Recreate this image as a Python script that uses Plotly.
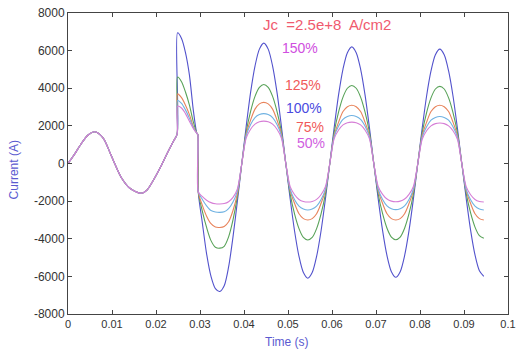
import plotly.graph_objects as go

# ---------------- data ----------------
series_names = ["150%", "125%", "100%", "75%", "50%"]
series_colors = ["#5252cc", "#58a258", "#e8845c", "#70b2e2", "#d67ed6"]

# pre-fault part (shared by all curves)
t_pre = [0.0, 0.0015, 0.003, 0.0045, 0.0061, 0.008, 0.0095, 0.0106, 0.012, 0.014,
         0.0166, 0.018, 0.0195, 0.021, 0.0225, 0.024, 0.0248]
i_pre = [0, 500, 1050, 1500, 1690, 1350, 600, 0, -700, -1300,
         -1585, -1400, -850, -200, 520, 1200, 1560]

# fault onset part (jump, decay, drop)
t_jump = [0.0249, 0.0258, 0.0267, 0.0276, 0.0285, 0.0293, 0.0295, 0.0296]
i_jump_150 = [6950, 6650, 5900, 4700, 2800, 1600, 1550, -1500]
i_jump_125 = [4600, 4350, 3800, 3100, 2200, 1600, 1550, -1500]
i_jump_100 = [3700, 3500, 3100, 2600, 1950, 1600, 1550, -1500]
i_jump_75 = [3350, 3200, 2850, 2400, 1900, 1600, 1550, -1500]
i_jump_50 = [3050, 2950, 2650, 2250, 1850, 1600, 1550, -1500]

# limited part
t_post = [0.0305, 0.0315, 0.0325, 0.0335, 0.0345, 0.0355, 0.0365, 0.0375, 0.0385, 0.0395,
          0.0405, 0.0415, 0.0425, 0.0435, 0.0445, 0.0455, 0.0465, 0.0475, 0.0485, 0.0495,
          0.0505, 0.0515, 0.0525, 0.0535, 0.0545, 0.0555, 0.0565, 0.0575, 0.0585, 0.0595,
          0.0605, 0.0615, 0.0625, 0.0635, 0.0645, 0.0655, 0.0665, 0.0675, 0.0685, 0.0695,
          0.0705, 0.0715, 0.0725, 0.0735, 0.0745, 0.0755, 0.0765, 0.0775, 0.0785, 0.0795,
          0.0805, 0.0815, 0.0825, 0.0835, 0.0845, 0.0855, 0.0865, 0.0875, 0.0885, 0.0895,
          0.0905, 0.0915, 0.0925, 0.0935, 0.0945]
i_post_150 = [-3100, -4800, -6000, -6650, -6800, -6500, -5500, -3900, -2000, 0,
              1980, 3780, 5180, 6080, 6400, 6080, 5180, 3780, 1980, 0,
              -1890, -3600, -4940, -5800, -6100, -5800, -4940, -3600, -1890, 0,
              1920, 3660, 5020, 5890, 6200, 5890, 5020, 3660, 1920, 0,
              -1880, -3570, -4900, -5750, -6050, -5750, -4900, -3570, -1880, 0,
              1880, 3590, 4920, 5780, 6080, 5780, 4920, 3590, 1880, 0,
              -1860, -3540, -4860, -5700, -6000]
i_post_125 = [-2500, -3400, -4100, -4450, -4500, -4400, -3900, -3000, -1750, 0,
              1680, 2770, 3570, 4050, 4200, 4050, 3570, 2770, 1680, 0,
              -1630, -2690, -3460, -3930, -4070, -3930, -3460, -2690, -1630, 0,
              1660, 2740, 3530, 4000, 4150, 4000, 3530, 2740, 1660, 0,
              -1620, -2670, -3440, -3910, -4050, -3910, -3440, -2670, -1620, 0,
              1640, 2710, 3490, 3960, 4100, 3960, 3490, 2710, 1640, 0,
              -1590, -2630, -3380, -3840, -3980]
i_post_100 = [-2200, -2800, -3200, -3380, -3400, -3350, -3100, -2500, -1600, 0,
              1560, 2310, 2890, 3170, 3250, 3170, 2890, 2310, 1560, 0,
              -1440, -2130, -2670, -2930, -3000, -2930, -2670, -2130, -1440, 0,
              1490, 2200, 2760, 3020, 3100, 3020, 2760, 2200, 1490, 0,
              -1440, -2130, -2670, -2930, -3000, -2930, -2670, -2130, -1440, 0,
              1490, 2200, 2760, 3020, 3100, 3020, 2760, 2200, 1490, 0,
              -1440, -2130, -2670, -2930, -3000]
i_post_75 = [-1900, -2250, -2500, -2580, -2600, -2570, -2400, -2050, -1450, 0,
             1480, 2070, 2440, 2600, 2650, 2600, 2440, 2070, 1480, 0,
             -1380, -1930, -2270, -2420, -2470, -2420, -2270, -1930, -1380, 0,
             1430, 1990, 2350, 2500, 2550, 2500, 2350, 1990, 1430, 0,
             -1370, -1910, -2250, -2400, -2450, -2400, -2250, -1910, -1370, 0,
             1400, 1950, 2300, 2450, 2500, 2450, 2300, 1950, 1400, 0,
             -1380, -1930, -2270, -2420, -2470]
i_post_50 = [-1750, -1950, -2080, -2140, -2150, -2130, -2030, -1800, -1350, 0,
             1350, 1820, 2090, 2220, 2250, 2220, 2090, 1820, 1350, 0,
             -1230, -1660, -1910, -2020, -2050, -2020, -1910, -1660, -1230, 0,
             1320, 1780, 2050, 2170, 2200, 2170, 2050, 1780, 1320, 0,
             -1220, -1640, -1890, -2000, -2030, -2000, -1890, -1640, -1220, 0,
             1290, 1740, 2000, 2120, 2150, 2120, 2000, 1740, 1290, 0,
             -1230, -1660, -1910, -2020, -2050]

x_tickvals = [0, 0.01, 0.02, 0.03, 0.04, 0.05, 0.06, 0.07, 0.08, 0.09, 0.1]
x_ticktext = ["0", "0.01", "0.02", "0.03", "0.04", "0.05", "0.06", "0.07", "0.08", "0.09", "0.1"]
y_tickvals = [-8000, -6000, -4000, -2000, 0, 2000, 4000, 6000, 8000]
y_ticktext = ["-8000", "-6000", "-4000", "-2000", "0", "2000", "4000", "6000", "8000"]

label_texts = ["150%", "125%", "100%", "75%", "50%"]
label_colors = ["#d04ee0", "#f05a5a", "#4a4ae0", "#f05a5a", "#d060e0"]
label_x = [0.0527, 0.0534, 0.0536, 0.0550, 0.0552]
label_y = [6150, 4180, 2950, 1940, 1090]

jumps = [i_jump_150, i_jump_125, i_jump_100, i_jump_75, i_jump_50]
posts = [i_post_150, i_post_125, i_post_100, i_post_75, i_post_50]

# ---------------- figure ----------------
fig = go.Figure()
for name, col, ij, ip in zip(series_names, series_colors, jumps, posts):
    fig.add_trace(go.Scatter(
        x=t_pre + t_jump + t_post,
        y=i_pre + ij + ip,
        mode="lines",
        name=name,
        line=dict(color=col, width=1.1, shape="spline", smoothing=0.8),
        showlegend=False,
    ))

axis_common = dict(
    showline=True, linecolor="#444", linewidth=1, mirror="ticks",
    ticks="inside", ticklen=4, tickcolor="#444", showgrid=False, zeroline=False,
    ticklabeloverflow="allow", automargin=False,
)
fig.update_xaxes(range=[0, 0.100001], tickvals=x_tickvals, ticktext=x_ticktext,
                 tickfont=dict(family="Liberation Sans, Arial", size=11, color="#333"),
                 **axis_common)
fig.update_yaxes(range=[-8000, 8000], tickvals=y_tickvals, ticktext=y_ticktext,
                 tickfont=dict(family="Liberation Sans, Arial", size=12, color="#333"),
                 **axis_common)

annotations = [
    dict(text="Jc  =2.5e+8  A/cm2", x=0.0588, y=7370, xref="x", yref="y",
         xanchor="center", yanchor="middle",
         showarrow=False, font=dict(family="Liberation Sans, Arial", size=15, color="#f05a6e")),
    dict(text="Current (A)", x=-0.122, y=0.478, xref="paper", yref="paper", textangle=-90,
         xanchor="center", yanchor="middle",
         showarrow=False, font=dict(family="Liberation Sans, Arial", size=12, color="#5a5ad0")),
    dict(text="Time (s)", x=0.4975, y=-0.093, xref="paper", yref="paper",
         xanchor="center", yanchor="middle",
         showarrow=False, font=dict(family="Liberation Sans, Arial", size=12, color="#5a5ad0")),
]
for txt, col, lx, ly in zip(label_texts, label_colors, label_x, label_y):
    annotations.append(dict(text=txt, x=lx, y=ly, xref="x", yref="y", showarrow=False,
                            xanchor="center", yanchor="middle",
                            font=dict(family="Liberation Sans, Arial", size=14, color=col)))

fig.update_layout(
    width=516, height=352,
    margin=dict(l=68, r=8, t=13, b=38, autoexpand=False),
    paper_bgcolor="white", plot_bgcolor="white",
    annotations=annotations,
)
fig.write_html("out.html")
